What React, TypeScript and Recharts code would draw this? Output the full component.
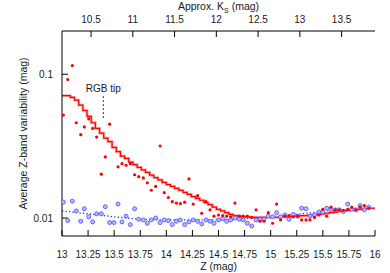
import {
  ComposedChart,
  XAxis,
  YAxis,
  Scatter,
  Line,
  ReferenceLine,
  ReferenceDot,
} from 'recharts'

const FONT = '"Liberation Sans", Arial, Helvetica, sans-serif'
const INK = '#1a1a1a'

// Z magnitude of each star bin (shared by both samples)
const magZ = [
  13.013, 13.055, 13.099, 13.137, 13.18, 13.214, 13.256, 13.294, 13.332, 13.377,
  13.415, 13.457, 13.498, 13.537, 13.575, 13.614, 13.655, 13.696, 13.735, 13.78,
  13.818, 13.856, 13.898, 13.94, 13.98, 14.019, 14.057, 14.096, 14.134, 14.176,
  14.217, 14.258, 14.3, 14.339, 14.38, 14.419, 14.457, 14.5, 14.54, 14.578,
  14.617, 14.658, 14.7, 14.738, 14.776, 14.818, 14.86, 14.898, 14.936, 14.977,
  15.019, 15.057, 15.095, 15.137, 15.176, 15.217, 15.259, 15.297, 15.339, 15.377,
  15.42, 15.463, 15.499, 15.537, 15.578, 15.62, 15.658, 15.696, 15.738, 15.777,
  15.818, 15.857, 15.898, 15.94,
]

// red sample (filled dots), null = no point
const redV = [
  0.052, 0.092, 0.115, 0.046, 0.038, 0.043, 0.049, 0.042, 0.0366, 0.0202,
  0.0266, 0.045, null, 0.0227, 0.0239, 0.0233, 0.0239, 0.02, 0.0194, 0.019,
  0.0176, 0.0156, 0.0166, 0.0317, 0.015, 0.0139, 0.013, 0.0127, 0.0126, 0.0129,
  0.0187, 0.0125, 0.0143, 0.0108, 0.013, 0.0114, 0.0103, 0.0105, 0.0104, 0.0103,
  0.0102, 0.0127, 0.0103, 0.0103, 0.0103, 0.0101, 0.0114, 0.0095, 0.0095, 0.0109,
  0.0092, 0.0125, 0.0097, 0.0103, 0.0104, 0.0102, 0.0103, 0.0097, 0.0097, 0.0097,
  0.0101, 0.0105, 0.0115, 0.0103, 0.0119, 0.0114, 0.0114, 0.0113, 0.0115, 0.0119,
  0.0114, 0.0119, 0.0122, 0.0117,
]

// blue sample (open circles)
const blueV = [
  0.0129, 0.0096, 0.0131, 0.0112, 0.0095, 0.0116, 0.0102, 0.0094, 0.0107, 0.0107,
  0.012, 0.0093, 0.0093, 0.0125, 0.0094, 0.0103, 0.009, 0.0116, 0.0098, 0.0097,
  0.0092, 0.0097, 0.01, 0.0093, 0.0097, 0.0096, 0.009, 0.0095, 0.0097, 0.009,
  0.0094, 0.0097, 0.0095, 0.0091, 0.0097, 0.0095, 0.0092, 0.0097, 0.0099, 0.0095,
  0.0097, 0.01, 0.0098, 0.0097, 0.0092, 0.0088, 0.0097, 0.0098, 0.0098, 0.0103,
  0.0102, 0.0109, 0.0102, 0.0105, 0.0098, 0.0106, 0.0103, 0.0117, 0.0116, 0.0103,
  0.0105, 0.011, 0.011, 0.0117, 0.0115, 0.0114, 0.0114, 0.0111, 0.0125, 0.0115,
  0.0114, 0.0122, 0.0114, 0.0119,
]

// red running average (histogram steps)
const stepZ = [
  13.0, 13.04, 13.08, 13.12, 13.16, 13.2, 13.24, 13.28, 13.32, 13.36,
  13.4, 13.44, 13.48, 13.52, 13.56, 13.6, 13.64, 13.68, 13.72, 13.76,
  13.8, 13.84, 13.88, 13.92, 13.96, 14.0, 14.04, 14.08, 14.12, 14.16,
  14.2, 14.24, 14.28, 14.32, 14.36, 14.4, 14.44, 14.48, 14.52, 14.56,
  14.6, 14.64, 14.68, 14.72, 14.76, 14.8, 14.84, 14.88, 14.92, 14.96,
  15.0, 15.04, 15.08, 15.12, 15.16, 15.2, 15.24, 15.28, 15.32, 15.36,
  15.4, 15.44, 15.48, 15.52, 15.56, 15.6, 15.64, 15.68, 15.72, 15.76,
  15.8, 15.84, 15.88, 15.92, 15.96, 16.0,
]
const stepV = [
  0.071, 0.071, 0.069, 0.066, 0.061, 0.056, 0.051, 0.046, 0.042, 0.039,
  0.036, 0.034, 0.031, 0.029, 0.027, 0.026, 0.0245, 0.0235, 0.0225, 0.0216,
  0.0208, 0.0199, 0.0191, 0.0184, 0.0177, 0.0171, 0.0166, 0.0161, 0.0156, 0.0151,
  0.0146, 0.0141, 0.0137, 0.0133, 0.0128, 0.0124, 0.0119, 0.0115, 0.0112, 0.0109,
  0.0106, 0.0104, 0.0103, 0.0102, 0.0102, 0.0101, 0.0101, 0.0101, 0.0101, 0.0101,
  0.0101, 0.0101, 0.0102, 0.0102, 0.0102, 0.0103, 0.0103, 0.0104, 0.0104, 0.0105,
  0.0105, 0.0106, 0.0107, 0.0108, 0.0109, 0.011, 0.0111, 0.0112, 0.0113, 0.0114,
  0.0115, 0.0115, 0.0116, 0.0117, 0.0117, 0.0117,
]

// blue running average (dotted)
const trendZ = [13.0, 13.25, 13.5, 13.75, 14.0, 14.25, 14.5, 14.75, 15.0, 15.25, 15.5, 15.75, 16.0]
const trendV = [0.0112, 0.0107, 0.0102, 0.0098, 0.0097, 0.0097, 0.0097, 0.0099, 0.0102, 0.0106, 0.0111, 0.0115, 0.0118]

const zTicks = [13, 13.25, 13.5, 13.75, 14, 14.25, 14.5, 14.75, 15, 15.25, 15.5, 15.75, 16]
const ksTicks = [10.5, 11, 11.5, 12, 12.5, 13, 13.5]
const ksDomain = [10.152, 13.9]
const yDomain = [0.0075, 0.2]
const majorY = [0.01, 0.1]
const minorY = [0.008, 0.009, 0.02, 0.03, 0.04, 0.05, 0.06, 0.07, 0.08, 0.09]

const rgbTipZ = 13.396

const redPoints = magZ
  .map((z, i) => ({ z, v: redV[i] }))
  .filter((p) => p.v != null)
const bluePoints = magZ.map((z, i) => ({ z, v: blueV[i] }))
const stepData = stepZ.map((z, i) => ({ z, v: stepV[i] }))
const trendData = trendZ.map((z, i) => ({ z, v: trendV[i] }))
// one invisible point so the frame-only axes get a domain
const anchor = [{ z: 14.5, ks: 12, v: 0.02 }]

const tickStyle = { fontSize: 10, fill: INK, fontFamily: FONT }

const RedDot = (p: any) => <circle cx={p.cx} cy={p.cy} r={1.6} fill="#ff0000" />
const BlueRing = (p: any) => (
  <circle cx={p.cx} cy={p.cy} r={2} fill="#b8b8ff" stroke="#5a5aff" strokeWidth={0.9} />
)
const Nothing = () => <g />

const fmtY = (v: number) => (v === 0.1 ? '0.1' : '0.01')

export default function App() {
  return (
    <div style={{ position: 'absolute', left: 0, top: 0, width: 390, height: 273, background: '#fff' }}>
      <ComposedChart
        width={390}
        height={273}
        margin={{ top: 0, right: 15, bottom: 0, left: 0 }}
        style={{ fontFamily: FONT }}
      >
        <XAxis
          type="number"
          dataKey="z"
          domain={[13, 16]}
          allowDataOverflow
          ticks={zTicks}
          interval={0}
          height={37}
          tickSize={-6}
          tickMargin={21}
          tick={tickStyle}
          stroke="#000"
          label={{ value: 'Z (mag)', position: 'insideBottom', offset: 3, fontSize: 10.5, fill: INK }}
        />
        <XAxis
          xAxisId="ks"
          dataKey="ks"
          orientation="top"
          type="number"
          domain={ksDomain}
          allowDataOverflow
          ticks={ksTicks}
          interval={0}
          height={31}
          tickSize={-6}
          tickMargin={14}
          tick={tickStyle}
          stroke="#000"
          label={(props: any) => {
            const vb = props.viewBox
            return (
              <text
                x={vb.x + vb.width / 2}
                y={10}
                textAnchor="middle"
                fontSize={10.5}
                fill={INK}
                fontFamily={FONT}
              >
                Approx. K<tspan dy={2.5} fontSize={7}>S</tspan>
                <tspan dy={-2.5}> (mag)</tspan>
              </text>
            )
          }}
        />
        <YAxis
          type="number"
          dataKey="v"
          scale="log"
          domain={yDomain}
          allowDataOverflow
          ticks={majorY}
          interval={0}
          width={62}
          tickSize={-6}
          tickMargin={15}
          tick={tickStyle}
          tickFormatter={fmtY}
          stroke="#000"
          label={(props: any) => {
            const vb = props.viewBox
            const cx = 23
            const cy = vb.y + vb.height / 2
            return (
              <text
                x={cx}
                y={cy}
                transform={`rotate(-90, ${cx}, ${cy})`}
                textAnchor="middle"
                dominantBaseline="central"
                fontSize={10.5}
                fill={INK}
                fontFamily={FONT}
              >
                Average Z-band variability (mag)
              </text>
            )
          }}
        />
        <YAxis
          yAxisId="minL"
          dataKey="v"
          mirror
          type="number"
          scale="log"
          domain={yDomain}
          allowDataOverflow
          ticks={minorY}
          interval={0}
          width={0}
          tickSize={3}
          tick={false}
          axisLine={false}
          stroke="#000"
        />
        <YAxis
          yAxisId="majR"
          dataKey="v"
          orientation="right"
          mirror
          type="number"
          scale="log"
          domain={yDomain}
          allowDataOverflow
          ticks={majorY}
          interval={0}
          width={0}
          tickSize={6}
          tick={false}
          stroke="#000"
        />
        <YAxis
          yAxisId="minR"
          dataKey="v"
          orientation="right"
          mirror
          type="number"
          scale="log"
          domain={yDomain}
          allowDataOverflow
          ticks={minorY}
          interval={0}
          width={0}
          tickSize={3}
          tick={false}
          axisLine={false}
          stroke="#000"
        />

        {/* invisible anchors for the frame axes */}
        <Scatter data={anchor} xAxisId="ks" dataKey="v" shape={Nothing} isAnimationActive={false} />
        <Scatter data={anchor} yAxisId="minL" dataKey="v" shape={Nothing} isAnimationActive={false} />
        <Scatter data={anchor} yAxisId="majR" dataKey="v" shape={Nothing} isAnimationActive={false} />
        <Scatter data={anchor} yAxisId="minR" dataKey="v" shape={Nothing} isAnimationActive={false} />

        <Line
          data={trendData}
          dataKey="v"
          type="linear"
          stroke="#2b2bff"
          strokeWidth={1.3}
          strokeDasharray="1.3 2.2"
          dot={false}
          isAnimationActive={false}
        />
        <Scatter data={bluePoints} dataKey="v" shape={BlueRing} isAnimationActive={false} />

        <Line
          data={stepData}
          dataKey="v"
          type="stepAfter"
          stroke="#ffa8a8"
          strokeWidth={2.8}
          dot={false}
          isAnimationActive={false}
        />
        <Line
          data={stepData}
          dataKey="v"
          type="stepAfter"
          stroke="#ff0000"
          strokeWidth={1.2}
          dot={false}
          isAnimationActive={false}
        />
        <Scatter data={redPoints} dataKey="v" shape={RedDot} isAnimationActive={false} />

        <ReferenceLine
          segment={[
            { x: rgbTipZ, y: 0.0705 },
            { x: rgbTipZ, y: 0.049 },
          ]}
          stroke="#333"
          strokeDasharray="2 2"
        />
        <ReferenceDot
          x={rgbTipZ}
          y={0.08}
          r={0}
          fill="none"
          stroke="none"
          label={{ value: 'RGB tip', position: 'center', fontSize: 10, fill: INK }}
        />
      </ComposedChart>
    </div>
  )
}
